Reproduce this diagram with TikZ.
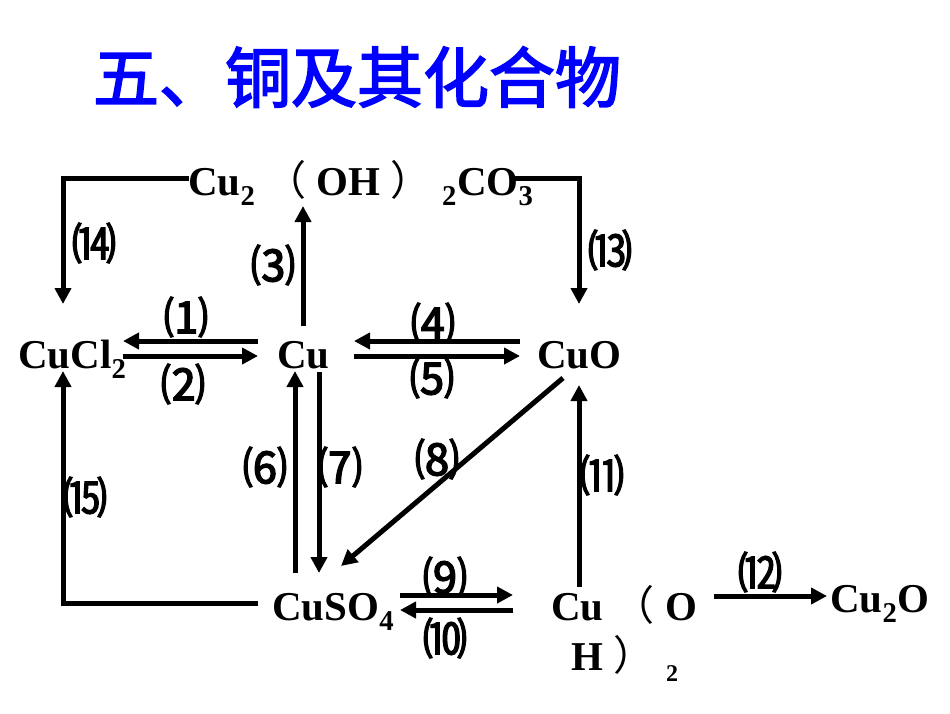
\documentclass[tikz,border=0pt]{standalone}
\usepackage{fontspec}
\setmainfont{Liberation Serif}
\newfontfamily\cjk[AutoFakeBold=2.5]{Noto Sans CJK SC}
\newfontfamily\lblfont[FakeBold=3.5]{Noto Sans CJK SC}
\usetikzlibrary{arrows.meta}
\definecolor{titleblue}{RGB}{0,0,255}
\newcommand{\fwp}[1]{{\cjk\mdseries #1}}
\tikzset{
  chem/.style={inner sep=0pt, font=\bfseries\fontsize{41}{48}\selectfont},
  lbl/.style={inner sep=0pt, font=\lblfont\fontsize{44}{44}\selectfont},
  arr/.style={line width=5pt, -{Triangle[length=16pt,width=16pt]}},
}
\begin{document}
\begin{tikzpicture}[x=1pt,y=-1pt]
\useasboundingbox (0,0) rectangle (950,713);
% title
\node[font=\cjk\bfseries\fontsize{66}{66}\selectfont, text=titleblue, inner sep=0pt] (title) at (357,77) {五、铜及其化合物};
% compounds
\node[chem, anchor=base west] (cuco) at (188,195) {Cu\textsubscript{2} \fwp{（} OH \fwp{）} \textsubscript{2}CO\textsubscript{3}};
\node[chem, anchor=base west] (cucl) at (18,368) {CuCl\textsubscript{2}};
\node[chem, anchor=base west] (cu) at (277,368) {Cu};
\node[chem, anchor=base west] (cuo) at (537,368) {CuO};
\node[chem, anchor=base west] (cuso) at (272,620) {CuSO\textsubscript{4}};
\node[chem, anchor=base west] (cuoha) at (551,620) {Cu \fwp{（} O};
\node[chem, anchor=base west] (cuohb) at (571,670) {H \fwp{）}};
\node[inner sep=0pt, font=\bfseries\fontsize{24}{24}\selectfont] (cuohs) at (672,674) {2};
\node[chem, anchor=base west] (cuto) at (830,612) {Cu\textsubscript{2}O};
% coordinates
\coordinate (p14a) at (189,178); \coordinate (p14b) at (63,178); \coordinate (p14c) at (63,304);
\coordinate (p13a) at (515,178); \coordinate (p13b) at (579,178); \coordinate (p13c) at (579,304);
\coordinate (p3a) at (303,326); \coordinate (p3b) at (303,206);
\coordinate (p1a) at (258,341); \coordinate (p1b) at (123,341);
\coordinate (p2a) at (123,356); \coordinate (p2b) at (258,356);
\coordinate (p4a) at (520,341); \coordinate (p4b) at (354,341);
\coordinate (p5a) at (354,356); \coordinate (p5b) at (520,356);
\coordinate (p6a) at (295,573); \coordinate (p6b) at (295,371);
\coordinate (p7a) at (319,372); \coordinate (p7b) at (319,573);
\coordinate (p8a) at (563,378); \coordinate (p8b) at (341,566);
\coordinate (p9a) at (400,595); \coordinate (p9b) at (513,595);
\coordinate (p10a) at (513,610); \coordinate (p10b) at (400,610);
\coordinate (p11a) at (579,587); \coordinate (p11b) at (579,385);
\coordinate (p12a) at (714,596); \coordinate (p12b) at (827,596);
\coordinate (p15a) at (258,603); \coordinate (p15b) at (63,603); \coordinate (p15c) at (63,371);
% connectors
\draw[arr, line join=miter] (p14a) -- (p14b) -- (p14c);
\draw[arr, line join=miter] (p13a) -- (p13b) -- (p13c);
\draw[arr] (p3a) -- (p3b);
\draw[arr] (p1a) -- (p1b);
\draw[arr] (p2a) -- (p2b);
\draw[arr] (p4a) -- (p4b);
\draw[arr] (p5a) -- (p5b);
\draw[arr] (p6a) -- (p6b);
\draw[arr] (p7a) -- (p7b);
\draw[arr] (p8a) -- (p8b);
\draw[arr] (p9a) -- (p9b);
\draw[arr] (p10a) -- (p10b);
\draw[arr] (p11a) -- (p11b);
\draw[arr] (p12a) -- (p12b);
\draw[arr, line join=miter] (p15a) -- (p15b) -- (p15c);
% labels
\node[lbl] (l1) at (186,317) {⑴};
\node[lbl] (l2) at (183,384) {⑵};
\node[lbl] (l3) at (273,265) {⑶};
\node[lbl] (l4) at (433,323) {⑷};
\node[lbl] (l5) at (432,378) {⑸};
\node[lbl] (l6) at (265,467) {⑹};
\node[lbl] (l7) at (340,467) {⑺};
\node[lbl] (l8) at (437,459) {⑻};
\node[lbl] (l9) at (445,577) {⑼};
\node[lbl] (l10) at (445,638) {⑽};
\node[lbl] (l11) at (602,475) {⑾};
\node[lbl] (l12) at (760,572) {⑿};
\node[lbl] (l13) at (610,250) {⒀};
\node[lbl] (l14) at (94,243) {⒁};
\node[lbl] (l15) at (85,497) {⒂};
\end{tikzpicture}
\end{document}
